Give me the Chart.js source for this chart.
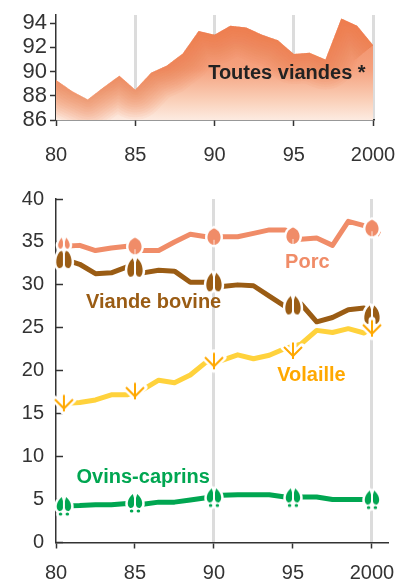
<!DOCTYPE html>
<html>
<head>
<meta charset="utf-8">
<title>Consommation de viandes</title>
<script src="https://cdn.jsdelivr.net/npm/chart.js@4"></script>
<style>
    html, body { margin: 0; padding: 0; background: #fff; }
    #wrap { position: relative; width: 406px; height: 580px; overflow: hidden; }
    canvas { position: absolute; left: 0; }
    #totalChart { top: 0; }
    #typesChart { top: 180px; }
</style>
</head>
<body>
<div id="wrap">
    <canvas id="totalChart" width="406" height="175"></canvas>
    <canvas id="typesChart" width="406" height="400"></canvas>
</div>
<script>
/* ── Data ──────────────────────────────────────────────────────────── */
const totalYears = [80, 81, 82, 83, 84, 85, 86, 87, 88, 89, 90, 91, 92, 93, 94, 95, 96, 97, 98, 99, 100];
const totalValues = [89.3, 88.4, 87.7, 88.7, 89.65, 88.5, 89.9, 90.5, 91.5, 93.35, 93.05, 93.8, 93.65, 93.05, 92.6, 91.45, 91.55, 91.0, 94.4, 93.8, 92.2];

const typeYears = [80.5, 81.5, 82.5, 83.5, 84.5, 85.5, 86.5, 87.5, 88.5, 89.5, 90.5, 91.5, 92.5, 93.5, 94.5, 95.5, 96.5, 97.5, 98.5, 99.5, 100.5];
const porc = [34.5, 34.6, 34.0, 34.3, 34.5, 34.0, 34.0, 35.0, 35.9, 35.6, 35.6, 35.6, 36.0, 36.4, 36.4, 35.3, 35.45, 34.6, 37.4, 36.9, 35.9];
const bovine = [33.0, 32.4, 31.3, 31.4, 32.1, 31.4, 31.7, 31.6, 30.3, 30.3, 29.8, 30.0, 29.9, 28.7, 27.5, 27.8, 25.7, 26.2, 27.1, 27.3, 25.8];
const volaille = [16.2, 16.3, 16.6, 17.2, 17.2, 17.8, 18.9, 18.6, 19.5, 21.0, 21.2, 21.85, 21.4, 21.8, 22.6, 23.1, 24.7, 24.45, 24.9, 24.4, 25.7];
const ovins = [4.25, 4.3, 4.4, 4.4, 4.55, 4.45, 4.7, 4.7, 4.95, 5.2, 5.5, 5.55, 5.55, 5.55, 5.3, 5.3, 5.3, 5.0, 5.0, 5.0, 5.0];

const markerYears = [80.5, 85, 90, 95, 100];
const porcMarkers = [34.8, 34.5, 35.6, 35.7, 36.6];
const bovineMarkers = [33.0, 32.0, 30.3, 27.6, 26.5];
const volailleMarkers = [16.2, 17.6, 21.1, 22.3, 24.9];
const ovinsMarkers = [4.25, 4.6, 5.25, 5.25, 5.0];

const totalGuides = [85, 90, 95, 100];
const typeGuides = [90, 100];

const INK = '#333';
const FONT = '"Liberation Sans", Arial, sans-serif';
const COLORS = { porc: '#f08c68', bovine: '#9a5c14', volaille: '#ffd23c', volailleDark: '#ffa800', ovins: '#00a651' };

/* ── Hoof and foot prints, drawn once then used as point styles ────── */
function lobe(c, x, w, top, bottom, side) {
    // one half of a cloven hoof: pointed top, round heel, straight inner side
    c.moveTo(x + side * 1.2, top);
    c.bezierCurveTo(x + side * w * 1.1, top + 5, x + side * w * 1.15, bottom - 2, x + side * w * 0.6, bottom);
    c.quadraticCurveTo(x + side * 0.6, bottom + 0.3, x, bottom - 3);
    c.lineTo(x, top + 4);
    c.closePath();
}

function makeMarker(paint) {
    const cv = document.createElement('canvas');
    cv.width = 36;
    cv.height = 36;
    const c = cv.getContext('2d');
    c.translate(18, 18);
    paint(c);
    return cv;
}

function hoofPath(c, kind) {
    c.beginPath();
    if (kind === 'porc') {
        c.moveTo(0, -8.5);
        c.bezierCurveTo(4.5, -7, 7, -2.5, 6.5, 1.5);
        c.bezierCurveTo(6, 5.5, 3, 8, 0, 8);
        c.bezierCurveTo(-3, 8, -6, 5.5, -6.5, 1.5);
        c.bezierCurveTo(-7, -2.5, -4.5, -7, 0, -8.5);
        c.closePath();
    } else if (kind === 'porcSplit') {
        lobe(c, -1, 5, -6, 5, -1);
        lobe(c, 1, 5, -6, 5, 1);
    } else if (kind === 'bovine') {
        lobe(c, -1, 7, -9.5, 9, -1);
        lobe(c, 1, 7, -9.5, 9, 1);
    } else {
        lobe(c, -1, 6.5, -9, 5, -1);
        lobe(c, 1, 6.5, -9, 5, 1);
        c.moveTo(-1.6, 8);
        c.ellipse(-3.4, 8, 1.8, 1.6, 0, 0, Math.PI * 2);
        c.moveTo(5.2, 8);
        c.ellipse(3.4, 8, 1.8, 1.6, 0, 0, Math.PI * 2);
    }
}

function hoofMarker(kind, color) {
    return makeMarker(c => {
        hoofPath(c, kind);
        c.strokeStyle = '#fff';
        c.lineWidth = 5;
        c.lineJoin = 'round';
        c.stroke();
        c.fillStyle = color;
        c.fill();
        if (kind === 'porc') {
            c.strokeStyle = '#fff';
            c.lineWidth = 0.8;
            c.beginPath();
            c.moveTo(0, 8);
            c.lineTo(0, 3);
            c.stroke();
        } else if (kind !== 'ovins' && kind !== 'porcSplit') {
            // keep the cleft open
            c.strokeStyle = '#fff';
            c.lineWidth = 1;
            c.beginPath();
            c.moveTo(0, -10);
            c.lineTo(0, 10);
            c.stroke();
        }
    });
}

function footMarker(color) {
    return makeMarker(c => {
        const foot = () => {
            c.beginPath();
            c.moveTo(0, -8.5);
            c.lineTo(0, 8);
            c.moveTo(-9, -4);
            c.lineTo(0, 5);
            c.lineTo(9, -4);
            c.stroke();
        };
        c.strokeStyle = '#fff';
        c.lineWidth = 7;
        c.lineCap = 'round';
        foot();
        c.strokeStyle = color;
        c.lineWidth = 2;
        c.lineCap = 'butt';
        foot();
    });
}

/* ── Helpers ───────────────────────────────────────────────────────── */
const zip = (xs, ys) => xs.map((x, i) => ({ x: x, y: ys[i] }));

function lineSet(values, color) {
    return {
        data: zip(typeYears, values),
        borderColor: color,
        borderWidth: 5,
        borderJoinStyle: 'round',
        pointRadius: 0,
        tension: 0,
        clip: false,
        order: 2,
    };
}

function markerSet(values, marker) {
    return {
        data: zip(markerYears, values),
        showLine: false,
        pointStyle: marker,
        pointRadius: 18,
        clip: false,
        order: 1,
    };
}

// names on the chart, placed in data coordinates
const textLabels = {
    id: 'textLabels',
    afterDatasetsDraw(chart, args, opts) {
        const c = chart.ctx;
        c.save();
        c.font = 'bold 20px ' + FONT;
        c.textAlign = 'left';
        c.textBaseline = 'middle';
        opts.items.forEach(t => {
            c.fillStyle = t.color;
            c.fillText(t.text, chart.scales.x.getPixelForValue(t.x), chart.scales.y.getPixelForValue(t.y));
        });
        c.restore();
    }
};

// darker band that follows the top edge of the area
const edgeGlow = {
    id: 'edgeGlow',
    afterDatasetDraw(chart, args) {
        const pts = chart.getDatasetMeta(args.index).data;
        const c = chart.ctx;
        const a = chart.chartArea;
        const trace = () => {
            c.beginPath();
            pts.forEach((p, i) => (i ? c.lineTo(p.x, p.y) : c.moveTo(p.x, p.y)));
        };
        c.save();
        trace();
        c.lineTo(a.right, a.bottom);
        c.lineTo(a.left, a.bottom);
        c.closePath();
        c.clip();
        c.lineJoin = 'round';
        c.strokeStyle = 'rgba(238,112,70,0.06)';
        for (let w = 60; w > 0; w -= 5) {
            c.lineWidth = w;
            trace();
            c.stroke();
        }
        c.restore();
    }
};

function xAxis(max, guides, tickPadding, height) {
    return {
        type: 'linear',
        min: 80,
        max: max,
        afterFit: s => { s.height = height; s.paddingLeft = 0; s.paddingRight = 0; },
        border: { color: INK, width: 1.5 },
        grid: {
            color: ctx => (ctx.tick && guides.includes(ctx.tick.value) ? '#dcdcdc' : 'rgba(0,0,0,0)'),
            lineWidth: 3,
            tickColor: INK,
            tickWidth: 1.5,
            tickLength: 6,
        },
        ticks: {
            stepSize: 5,
            includeBounds: false,
            autoSkip: false,
            maxRotation: 0,
            color: INK,
            padding: tickPadding,
            font: { family: FONT, size: 20 },
            callback: v => (v === 100 ? '2000' : String(v)),
        },
    };
}

function yAxis(min, max, step, fontSize, tickLength, tickPadding) {
    return {
        min: min,
        max: max,
        afterFit: s => { s.width = 56; s.paddingTop = 0; s.paddingBottom = 0; },
        border: { color: INK, width: 1.5 },
        grid: { color: 'rgba(0,0,0,0)', tickColor: INK, tickWidth: 1.5, tickLength: tickLength },
        ticks: {
            stepSize: step,
            includeBounds: false,
            autoSkip: false,
            color: INK,
            padding: tickPadding,
            font: { family: FONT, size: fontSize },
        },
    };
}

/* ── Toutes viandes ────────────────────────────────────────────────── */
new Chart(document.getElementById('totalChart').getContext('2d'), {
    type: 'line',
    data: {
        datasets: [{
            data: zip(totalYears, totalValues),
            fill: 'start',
            borderWidth: 0,
            pointRadius: 0,
            tension: 0,
            backgroundColor: ctx => {
                const a = ctx.chart.chartArea;
                if (!a) return '#f5a07a';
                const g = ctx.chart.ctx.createLinearGradient(0, 23, 0, a.bottom);
                g.addColorStop(0, '#f08a62');
                g.addColorStop(0.48, '#f5a27f');
                g.addColorStop(0.8, '#fad0b9');
                g.addColorStop(1, '#fdebe1');
                return g;
            },
        }]
    },
    options: {
        responsive: false,
        animation: false,
        layout: { padding: { top: 15, right: 33 } },
        plugins: {
            legend: { display: false },
            tooltip: { enabled: false },
            textLabels: { items: [{ text: 'Toutes viandes *', x: 89.6, y: 89.87, color: '#222' }] },
        },
        scales: {
            x: xAxis(100, totalGuides, 17, 55),
            y: yAxis(86, 94.68, 2, 22, 6, 3),
        },
    },
    plugins: [edgeGlow, textLabels],
});

/* ── Par type de viande ────────────────────────────────────────────── */
const porcWhole = hoofMarker('porc', COLORS.porc);
new Chart(document.getElementById('typesChart').getContext('2d'), {
    type: 'line',
    data: {
        datasets: [
            lineSet(porc, COLORS.porc),
            lineSet(bovine, COLORS.bovine),
            lineSet(volaille, COLORS.volaille),
            lineSet(ovins, COLORS.ovins),
            markerSet(porcMarkers, [hoofMarker('porcSplit', COLORS.porc), porcWhole, porcWhole, porcWhole, porcWhole]),
            markerSet(volailleMarkers, footMarker(COLORS.volailleDark)),
            markerSet(bovineMarkers, hoofMarker('bovine', COLORS.bovine)),
            markerSet(ovinsMarkers, hoofMarker('ovins', COLORS.ovins)),
        ]
    },
    options: {
        responsive: false,
        animation: false,
        layout: { padding: { top: 18, right: 19 } },
        plugins: {
            legend: { display: false },
            tooltip: { enabled: false },
            textLabels: {
                items: [
                    { text: 'Porc', x: 94.5, y: 32.6, color: COLORS.porc },
                    { text: 'Viande bovine', x: 81.9, y: 27.9, color: COLORS.bovine },
                    { text: 'Volaille', x: 94.0, y: 19.5, color: COLORS.volailleDark },
                    { text: 'Ovins-caprins', x: 81.3, y: 7.6, color: COLORS.ovins },
                ]
            },
        },
        scales: {
            x: xAxis(100.95, typeGuides, 13, 37.5),
            y: yAxis(0, 40, 5, 20, -7, 19),
        },
    },
    plugins: [textLabels],
});
</script>
</body>
</html>
